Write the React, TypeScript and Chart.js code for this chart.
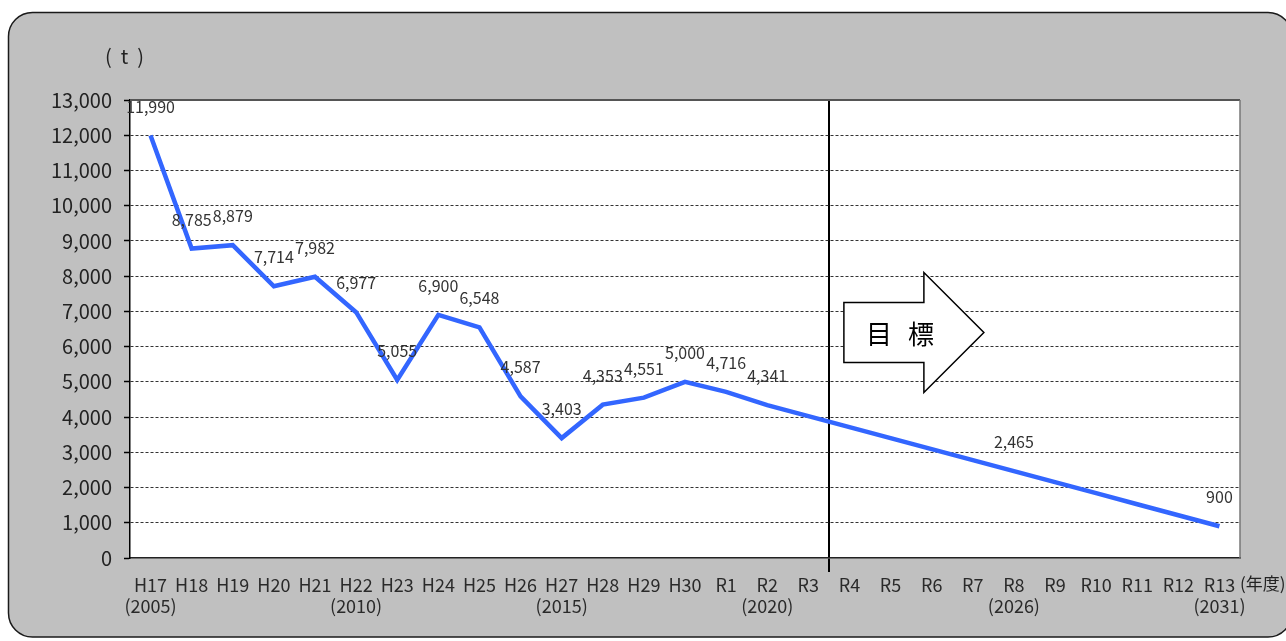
import React, { useEffect, useRef } from 'react';
import { Chart, registerables } from 'chart.js';

Chart.register(...registerables);

// Fiscal years (Heisei / Reiwa) on the category axis
const fiscalYears = [
  'H17', 'H18', 'H19', 'H20', 'H21', 'H22', 'H23', 'H24', 'H25', 'H26', 'H27', 'H28', 'H29', 'H30',
  'R1', 'R2', 'R3', 'R4', 'R5', 'R6', 'R7', 'R8', 'R9', 'R10', 'R11', 'R12', 'R13',
];

// Western-calendar notes shown under some fiscal years
const yearNotes = [
  '(2005)', '', '', '', '', '(2010)', '', '', '', '', '(2015)', '', '', '', '',
  '(2020)', '', '', '', '', '', '(2026)', '', '', '', '', '(2031)',
];

// Annual amount in tonnes (results up to R2, target path afterwards)
const amounts = [
  11990, 8785, 8879, 7714, 7982, 6977, 5055, 6900, 6548, 4587, 3403, 4353, 4551, 5000,
  4716, 4341, 4028, 3716, 3403, 3090, 2778, 2465, 2152, 1840, 1527, 1214, 900,
];

// Which points carry a value label
const showValue = [
  true, true, true, true, true, true, true, true, true, true, true, true, true, true,
  true, true, false, false, false, false, false, true, false, false, false, false, true,
];

// Y axis range and step (t)
const yMin = 0;
const yMax = 13000;
const yStep = 1000;

// First fiscal year of the target period
const targetStart = 'R4';

const unitLabel = '(t)';
const axisUnit = '(年度)';
const targetText = '目　標';

const JP_FONT = "'Noto Sans CJK JP', 'Noto Sans', sans-serif";

const fmt = (v: number) => v.toLocaleString('en-US');

const setSpacing = (ctx: any, v: string) => {
  try {
    ctx.letterSpacing = v;
  } catch (e) {
    /* older canvas without letterSpacing */
  }
};

const decorPlugin = {
  id: 'decor',
  beforeDraw(chart: any) {
    const { ctx, chartArea } = chart;
    ctx.save();
    // grey rounded panel
    const x0 = 8.5, y0 = 12.5, x1 = 1292, y1 = 637, r = 24;
    ctx.beginPath();
    ctx.roundRect(x0, y0, x1 - x0, y1 - y0, r);
    ctx.fillStyle = '#c0c0c0';
    ctx.fill();
    ctx.lineWidth = 1.5;
    ctx.strokeStyle = '#1a1a1a';
    ctx.stroke();
    // white plot area
    ctx.fillStyle = '#ffffff';
    ctx.fillRect(chartArea.left, chartArea.top, chartArea.right - chartArea.left, chartArea.bottom - chartArea.top);
    ctx.restore();
  },
  afterDraw(chart: any) {
    const { ctx, chartArea, scales } = chart;
    const xs = scales.x;
    const ys = scales.y;
    ctx.save();

    // plot frame top / right
    ctx.strokeStyle = '#555';
    ctx.lineWidth = 2;
    ctx.beginPath();
    ctx.moveTo(chartArea.left, chartArea.top);
    ctx.lineTo(chartArea.right, chartArea.top);
    ctx.stroke();
    ctx.strokeStyle = '#777';
    ctx.lineWidth = 1.5;
    ctx.beginPath();
    ctx.moveTo(chartArea.right, chartArea.top);
    ctx.lineTo(chartArea.right, chartArea.bottom);
    ctx.stroke();

    // value labels
    const meta = chart.getDatasetMeta(0);
    ctx.font = `16px ${JP_FONT}`;
    ctx.fillStyle = '#333';
    ctx.textAlign = 'center';
    ctx.textBaseline = 'middle';
    meta.data.forEach((pt: any, i: number) => {
      if (!showValue[i]) return;
      ctx.fillText(fmt(amounts[i]), pt.x, pt.y - 29);
    });

    // target arrow
    const idx = fiscalYears.indexOf(targetStart);
    const divider = (xs.getPixelForValue(idx - 1) + xs.getPixelForValue(idx)) / 2;
    const cy = ys.getPixelForValue(6400);
    const bl = divider + 15, hb = divider + 95, tip = divider + 155;
    ctx.beginPath();
    ctx.moveTo(bl, cy - 30);
    ctx.lineTo(hb, cy - 30);
    ctx.lineTo(hb, cy - 60);
    ctx.lineTo(tip, cy);
    ctx.lineTo(hb, cy + 60);
    ctx.lineTo(hb, cy + 30);
    ctx.lineTo(bl, cy + 30);
    ctx.closePath();
    ctx.fillStyle = '#fff';
    ctx.fill();
    ctx.strokeStyle = '#000';
    ctx.lineWidth = 1.5;
    ctx.stroke();
    ctx.font = `26px ${JP_FONT}`;
    ctx.fillStyle = '#000';
    ctx.textAlign = 'left';
    setSpacing(ctx, '-5px');
    ctx.fillText(targetText, bl + 22, cy + 2);
    setSpacing(ctx, '0px');

    // unit labels
    ctx.font = `20px ${JP_FONT}`;
    ctx.fillStyle = '#222';
    ctx.textAlign = 'center';
    setSpacing(ctx, '9px');
    ctx.fillText(unitLabel, 129, 56);
    setSpacing(ctx, '0px');
    ctx.font = `17px ${JP_FONT}`;
    ctx.textAlign = 'left';
    ctx.fillText(axisUnit, chartArea.right, chartArea.bottom + 26);

    ctx.restore();
  },
};

export default function App() {
  const canvasRef = useRef<HTMLCanvasElement | null>(null);

  useEffect(() => {
    const canvas = canvasRef.current;
    if (!canvas) return;
    const targetIdx = fiscalYears.indexOf(targetStart);
    const labels = fiscalYears.map((f, i) => (yearNotes[i] ? [f, yearNotes[i]] : f));

    const chart = new Chart(canvas, {
      type: 'line',
      data: {
        labels,
        datasets: [
          {
            data: amounts,
            borderColor: '#3366ff',
            borderWidth: 4.5,
            pointRadius: 0,
            tension: 0,
            fill: false,
          },
        ],
      },
      options: {
        animation: false,
        responsive: false,
        devicePixelRatio: 1,
        layout: { padding: { top: 100, right: 46, left: 0, bottom: 0 } },
        plugins: {
          legend: { display: false },
          tooltip: { enabled: false },
        },
        scales: {
          x: {
            type: 'category',
            offset: true,
            grid: {
              offset: true,
              drawOnChartArea: true,
              color: (c: any) => (c.index === targetIdx ? '#000' : 'rgba(0,0,0,0)'),
              lineWidth: 2,
              tickLength: 14,
            },
            border: { color: '#222', width: 1.5 },
            ticks: {
              autoSkip: false,
              maxRotation: 0,
              minRotation: 0,
              color: '#2a2a2a',
              padding: 2,
              font: { family: JP_FONT, size: 18, lineHeight: 1.2 },
            },
            afterFit: (s: any) => {
              s.height = 83;
            },
          },
          y: {
            min: yMin,
            max: yMax,
            ticks: {
              stepSize: yStep,
              color: '#222',
              padding: 12,
              font: { family: JP_FONT, size: 20 },
              callback: (v: any) => fmt(Number(v)),
            },
            grid: {
              color: (c: any) =>
                c.tick && (c.tick.value === yMin || c.tick.value === yMax) ? 'rgba(0,0,0,0)' : '#333',
              lineWidth: 1,
              tickColor: '#000',
              tickLength: 6,
              tickWidth: 1.5,
            },
            border: { color: '#000', width: 1.5, dash: [3, 2] },
            afterFit: (s: any) => {
              s.width = 130;
            },
          },
        },
      },
      plugins: [decorPlugin],
    });

    return () => chart.destroy();
  }, []);

  return (
    <div style={{ position: 'absolute', left: 0, top: 0, width: 1286, height: 641 }}>
      <canvas ref={canvasRef} width={1286} height={641} style={{ display: 'block' }} />
    </div>
  );
}
